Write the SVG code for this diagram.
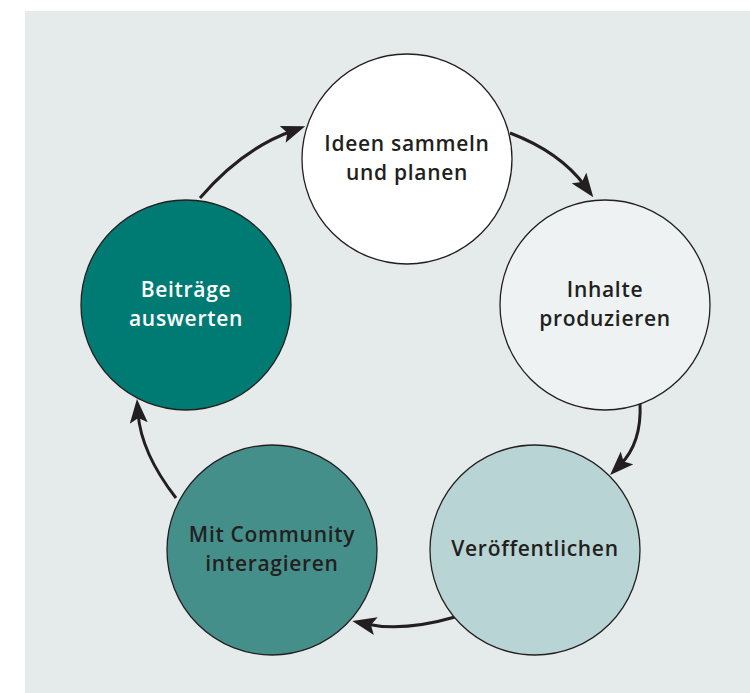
<svg xmlns="http://www.w3.org/2000/svg" width="750" height="693" viewBox="0 0 750 693">
  <defs>
    <marker id="arrowhead" viewBox="0 0 24 18" refX="10" refY="9" markerWidth="24" markerHeight="18" markerUnits="userSpaceOnUse" orient="auto">
      <path d="M0,0 L24,9 L0,18 L5,9 Z" fill="#231f20"/>
    </marker>
  </defs>
  <style>
    .node circle { stroke: #231f20; stroke-width: 1.3; }
    .label { font-family: "Open Sans", "Noto Sans", sans-serif; font-size: 21px; font-weight: 600; letter-spacing: 0.7px; text-anchor: middle; fill: #231f20; }
    .light { fill: #ffffff; }
    .connector { fill: none; stroke: #231f20; stroke-width: 3; marker-end: url(#arrowhead); }
  </style>

  <!-- backdrop panel -->
  <rect x="25" y="11" width="725" height="682" fill="#e5ebea"/>

  <!-- cycle connectors -->
  <g id="connectors">
    <path class="connector" d="M200,198 Q242,149 292,131"/>
    <path class="connector" d="M510,133 Q560,152 585,186"/>
    <path class="connector" d="M640,403 Q642,443 620,465"/>
    <path class="connector" d="M455,617 Q403,632 366,624"/>
    <path class="connector" d="M176,498 Q141,453 138,413"/>
  </g>

  <g id="ideen-sammeln" class="node">
    <circle cx="407" cy="159" r="105" fill="#ffffff"/>
    <text class="label" x="407" y="151">Ideen sammeln</text>
    <text class="label" x="407" y="180">und planen</text>
  </g>

  <g id="inhalte-produzieren" class="node">
    <circle cx="605" cy="305" r="105" fill="#eef2f2"/>
    <text class="label" x="605" y="297">Inhalte</text>
    <text class="label" x="605" y="326">produzieren</text>
  </g>

  <g id="veroeffentlichen" class="node">
    <circle cx="535" cy="550" r="105" fill="#b9d4d5"/>
    <text class="label" x="535" y="556">Veröffentlichen</text>
  </g>

  <g id="community" class="node">
    <circle cx="272" cy="550" r="105" fill="#458f8b"/>
    <text class="label" x="272" y="542">Mit Community</text>
    <text class="label" x="272" y="571">interagieren</text>
  </g>

  <g id="auswerten" class="node">
    <circle cx="186" cy="305" r="105" fill="#007b73"/>
    <text class="label light" x="186" y="297">Beiträge</text>
    <text class="label light" x="186" y="326">auswerten</text>
  </g>
</svg>
